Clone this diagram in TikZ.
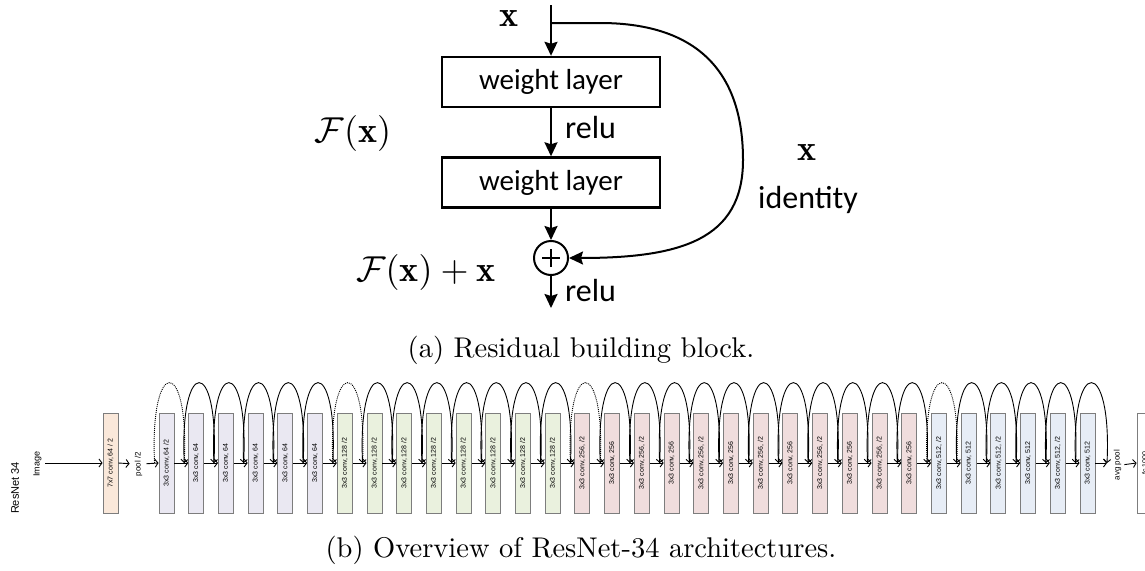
\documentclass[tikz,border=0pt]{standalone}
\usepackage{fontspec}
\usepackage{graphicx}
\usetikzlibrary{arrows.meta}
\newfontfamily\calibrif{Carlito}
\newfontfamily\arialf{Liberation Sans}
\definecolor{cOrange}{RGB}{250,232,218}
\definecolor{cLav}{RGB}{234,232,242}
\definecolor{cGreen}{RGB}{234,241,222}
\definecolor{cPink}{RGB}{240,221,221}
\definecolor{cBlue}{RGB}{231,237,246}
\definecolor{cBorder}{RGB}{125,125,125}
\newcommand\rt[1]{\rotatebox{90}{#1}}
\newcommand\scmath[1]{\scalebox{3.6}{$#1$}}
\newcommand\sccap[1]{\scalebox{2.85}{#1}}
\begin{document}
\begin{tikzpicture}[x=1pt,y=1pt,
 wl/.style={draw, line width=2.4pt, minimum width=218pt, minimum height=50pt, inner sep=0pt, font=\calibrif\fontsize{29}{30}\selectfont},
 lab/.style={inner sep=0pt, font=\calibrif\fontsize{32}{34}\selectfont},
 mth/.style={inner sep=0pt},
 arr/.style={line width=2pt, -{Stealth[length=14pt,width=13pt,inset=2pt]}},
 conv/.style={draw=cBorder, line width=0.9pt, minimum width=15pt, minimum height=100pt, inner sep=0pt, font=\arialf\fontsize{7}{8}\selectfont},
 lav/.style={conv, fill=cLav},
 grn/.style={conv, fill=cGreen},
 pnk/.style={conv, fill=cPink},
 blu/.style={conv, fill=cBlue},
 slab/.style={inner sep=0pt, font=\arialf\fontsize{8}{9}\selectfont},
 sarr/.style={line width=0.9pt, -{Straight Barb[length=3pt,width=8pt]}},
 skiparc/.style={line width=0.9pt, -{Straight Barb[length=3pt,width=7pt]}},
 dskip/.style={skiparc, dash pattern=on 1pt off 1pt},
 captxt/.style={inner sep=0pt, anchor=base}
]
\useasboundingbox (0,0) rectangle (1145,-570);
\clip (0,0) rectangle (1145,-570);

% ---------- (a) residual block ----------
\node[wl] (wl1) at (551,-82) {weight layer};
\node[wl] (wl2) at (551,-182.5) {weight layer};
\node[draw, circle, line width=2pt, minimum size=34pt, inner sep=0pt] (plus) at (551,-258) {};
\draw[line width=2pt] (plus.center) ++(-9,0) -- ++(18,0);
\draw[line width=2pt] (plus.center) ++(0,-9) -- ++(0,18);

\coordinate (xin) at (551,-5);
\coordinate (branch) at (551,-23);
\coordinate (bend) at (600,-23);
\coordinate (farright) at (743,-160);
\coordinate (out) at (551,-308);

\draw[arr] (xin) -- (wl1.north);
\draw[arr] (wl1.south) -- (wl2.north);
\draw[arr] (wl2.south) -- (plus.north);
\draw[arr] (plus.south) -- (out);
\draw[arr] (branch) -- (bend) .. controls (690,-23) and (743,-65) .. (farright)
  .. controls (743,-240) and (680,-258) .. (plus.east);

\node[mth] (xtop) at (509,-18.5) {\scmath{\mathbf{x}}};
\node[mth] (fx) at (353,-133) {\scmath{\mathcal{F}(\mathbf{x})}};
\node[mth] (fxx) at (426,-272) {\scmath{\mathcal{F}(\mathbf{x})+\mathbf{x}}};
\node[mth] (xright) at (807,-153) {\scmath{\mathbf{x}}};
\node[lab] (ident) at (808,-200) {identity};
\node[lab, anchor=west] (relu1) at (565,-128) {relu};
\node[lab, anchor=west] (relu2) at (565,-291) {relu};

\node[captxt] (capa) at (581,-357.5) {\sccap{(a) Residual building block.}};

% ---------- (b) ResNet-34 ----------
\node[slab, font=\arialf\fontsize{11}{12}\selectfont] (rn) at (15,-488) {\rt{ResNet 34}};
\node[slab, font=\arialf\fontsize{9}{10}\selectfont] (img) at (37.5,-464) {\rt{Image}};
\node[conv, fill=cOrange] (c7) at (110.5,-463) {\rt{7x7 conv, 64 / 2}};
\node[slab] (pool) at (138.5,-464) {\rt{pool /2}};

\node[lav] (b0) at (166.5,-463) {\rt{3x3 conv, 64 /2}};
\node[lav] (b1) at (196.2,-463) {\rt{3x3 conv, 64}};
\node[lav] (b2) at (225.9,-463) {\rt{3x3 conv, 64}};
\node[lav] (b3) at (255.6,-463) {\rt{3x3 conv, 64}};
\node[lav] (b4) at (285.3,-463) {\rt{3x3 conv, 64}};
\node[lav] (b5) at (315.1,-463) {\rt{3x3 conv, 64}};
\node[grn] (b6) at (344.8,-463) {\rt{3x3 conv, 128 /2}};
\node[grn] (b7) at (374.5,-463) {\rt{3x3 conv, 128 /2}};
\node[grn] (b8) at (404.2,-463) {\rt{3x3 conv, 128 /2}};
\node[grn] (b9) at (433.9,-463) {\rt{3x3 conv, 128 /2}};
\node[grn] (b10) at (463.6,-463) {\rt{3x3 conv, 128 /2}};
\node[grn] (b11) at (493.3,-463) {\rt{3x3 conv, 128 /2}};
\node[grn] (b12) at (523.0,-463) {\rt{3x3 conv, 128 /2}};
\node[grn] (b13) at (552.7,-463) {\rt{3x3 conv, 128 /2}};
\node[pnk] (b14) at (582.4,-463) {\rt{3x3 conv, 256, /2}};
\node[pnk] (b15) at (612.2,-463) {\rt{3x3 conv, 256}};
\node[pnk] (b16) at (641.9,-463) {\rt{3x3 conv, 256, /2}};
\node[pnk] (b17) at (671.6,-463) {\rt{3x3 conv, 256}};
\node[pnk] (b18) at (701.3,-463) {\rt{3x3 conv, 256, /2}};
\node[pnk] (b19) at (731.0,-463) {\rt{3x3 conv, 256}};
\node[pnk] (b20) at (760.7,-463) {\rt{3x3 conv, 256, /2}};
\node[pnk] (b21) at (790.4,-463) {\rt{3x3 conv, 256}};
\node[pnk] (b22) at (820.1,-463) {\rt{3x3 conv, 256, /2}};
\node[pnk] (b23) at (849.8,-463) {\rt{3x3 conv, 256}};
\node[pnk] (b24) at (879.5,-463) {\rt{3x3 conv, 256, /2}};
\node[pnk] (b25) at (909.3,-463) {\rt{3x3 conv, 256}};
\node[blu] (b26) at (939.0,-463) {\rt{3x3 conv, 512, /2}};
\node[blu] (b27) at (968.7,-463) {\rt{3x3 conv, 512}};
\node[blu] (b28) at (998.4,-463) {\rt{3x3 conv, 512, /2}};
\node[blu] (b29) at (1028.1,-463) {\rt{3x3 conv, 512}};
\node[blu] (b30) at (1057.8,-463) {\rt{3x3 conv, 512, /2}};
\node[blu] (b31) at (1087.5,-463) {\rt{3x3 conv, 512}};

\node[slab] (avg) at (1117.5,-465) {\rt{avg pool}};
\node[conv, fill=white] (fc) at (1144.5,-463) {\rt{fc 1000}};

\coordinate (imgstart) at (45,-463);
\draw[sarr] (imgstart) -- (c7.west);
\draw[sarr, shorten >=5pt] (c7.east) -- (pool.west);
\draw[sarr, shorten <=4pt] (pool.east) -- (b0.west);

\foreach \i in {0,...,31} { \path (b\i.west) ++(-4,0) coordinate (s\i); }
\coordinate (s32) at (1107,-463);
\foreach \i [evaluate=\i as \j using int(\i+1)] in {0,...,30} {
  \draw[sarr] (b\i.east) -- (b\j.west);
}
\draw[sarr] (b31.east) -- (s32);
\draw[sarr, shorten <=3pt] (avg.east) -- (fc.west);

\foreach \i [evaluate=\i as \j using int(\i+1)] in {0,...,31} {
  \pgfmathtruncatemacro\dt{(\i==0)||(\i==6)||(\i==14)||(\i==26)}
  \ifnum\dt=1
    \draw[dskip] (s\i) .. controls +(-5,107) and +(5,107) .. (s\j);
  \else
    \draw[skiparc] (s\i) .. controls +(-5,107) and +(5,107) .. (s\j);
  \fi
}

\node[captxt] (capb) at (581,-557.5) {\sccap{(b) Overview of ResNet-34 architectures.}};
\end{tikzpicture}
\end{document}
